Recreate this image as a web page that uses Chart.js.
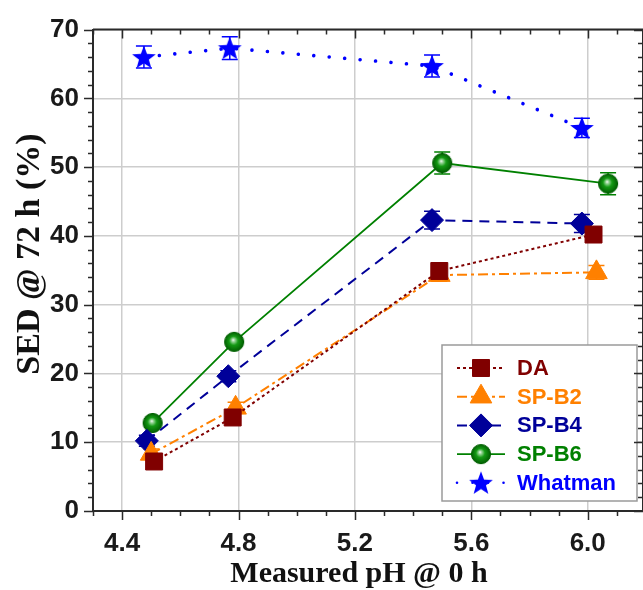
<!DOCTYPE html>
<html><head><meta charset="utf-8">
<script src="https://cdn.jsdelivr.net/npm/chart.js@4.4.1/dist/chart.umd.min.js"></script>
<style>html,body{margin:0;padding:0;background:#fff;}#wrap{width:643px;height:590px;}</style>
</head><body><div id="wrap"><canvas id="c" width="643" height="590"></canvas></div>
<script>
// ---- data ----
const seriesNames = ['DA', 'SP-B2', 'SP-B4', 'SP-B6', 'Whatman'];
const phDA = [4.51, 4.78, 5.49, 6.02];
const sedDA = [7.2, 13.6, 34.9, 40.2];
const errDA = [0.7, 0.8, 1.0, 0.9];
const phB2 = [4.50, 4.79, 5.49, 6.03];
const sedB2 = [8.3, 15.0, 34.3, 34.7];
const errB2 = [0.7, 0.8, 0.9, 1.0];
const phB4 = [4.485, 4.765, 5.465, 5.98];
const sedB4 = [10.2, 19.6, 42.3, 41.8];
const errB4 = [0.8, 0.8, 1.3, 1.3];
const phB6 = [4.505, 4.785, 5.50, 6.07];
const sedB6 = [12.8, 24.6, 50.6, 47.6];
const errB6 = [0.6, 0.7, 1.6, 1.6];
const phW = [4.475, 4.77, 5.465, 5.98];
const sedW = [66.0, 67.3, 64.7, 55.7];
const errW = [1.6, 1.65, 1.6, 1.4];
const xTickLabels = [4.4, 4.8, 5.2, 5.6, 6.0];
const yTickLabels = [0, 10, 20, 30, 40, 50, 60, 70];
const xTitle = 'Measured pH @ 0 h';
const yTitle = 'SED @ 72 h (%)';

// ---- marker images ----
function sphere(){
  const c = document.createElement('canvas'); c.width = 22; c.height = 22;
  const g = c.getContext('2d');
  const gr = g.createRadialGradient(10, 9, 0, 11, 11, 10);
  gr.addColorStop(0, '#ffffff'); gr.addColorStop(0.15, '#9fd89f');
  gr.addColorStop(0.45, '#149a14'); gr.addColorStop(1, '#005a00');
  g.beginPath(); g.arc(11, 11, 9.6, 0, Math.PI * 2); g.fillStyle = gr; g.fill();
  g.lineWidth = 1; g.strokeStyle = '#006000'; g.stroke();
  return c;
}
function starImg(){
  const c = document.createElement('canvas'); c.width = 26; c.height = 26;
  const g = c.getContext('2d');
  g.beginPath();
  for (let i = 0; i < 10; i++) {
    const r = i % 2 === 0 ? 12.5 : 5.2;
    const a = -Math.PI / 2 + i * Math.PI / 5;
    const px = 13 + r * Math.cos(a), py = 14 + r * Math.sin(a);
    if (i === 0) g.moveTo(px, py); else g.lineTo(px, py);
  }
  g.closePath(); g.fillStyle = '#0000ff'; g.fill();
  return c;
}
const sphereC = sphere();
const starC = starImg();

const colors = ['#800000', '#ff8000', '#000099', '#008000', '#0000ff'];
const styles = [
  {pointStyle: 'rect', radius: 12, dash: [3, 3], width: 2, cap: 'butt'},
  {pointStyle: 'triangle', radius: 12.5, dash: [10, 4, 3, 4], width: 2, cap: 'butt'},
  {pointStyle: 'rectRot', radius: 11.5, dash: [10, 7], width: 2, cap: 'butt'},
  {pointStyle: sphereC, radius: 10, dash: [], width: 1.8, cap: 'butt'},
  {pointStyle: starC, radius: 12, dash: [0.01, 15.5], width: 3.6, cap: 'round'}
];
const xs = [phDA, phB2, phB4, phB6, phW];
const ys = [sedDA, sedB2, sedB4, sedB6, sedW];
const errs = [errDA, errB2, errB4, errB6, errW];

const datasets = seriesNames.map((name, k) => ({
  label: name,
  data: xs[k].map((x, i) => ({x: x, y: ys[k][i]})),
  showLine: true, fill: false, tension: 0,
  borderColor: colors[k], backgroundColor: colors[k],
  borderWidth: styles[k].width, borderDash: styles[k].dash, borderCapStyle: styles[k].cap,
  pointStyle: styles[k].pointStyle, pointRadius: styles[k].radius,
  pointBackgroundColor: colors[k], pointBorderColor: colors[k], pointBorderWidth: 1,
  pointHoverRadius: styles[k].radius, clip: false
}));

const axisColor = '#2a2a2a';
const decor = {
  id: 'decor',
  beforeDatasetsDraw(chart) {
    const c = chart.ctx, X = chart.scales.x, Y = chart.scales.y;
    c.save();
    errs.forEach((e, k) => {
      c.strokeStyle = colors[k]; c.lineWidth = 1.5; c.setLineDash([]);
      e.forEach((d, i) => {
        const px = X.getPixelForValue(xs[k][i]);
        const t = Y.getPixelForValue(ys[k][i] + d), b = Y.getPixelForValue(ys[k][i] - d);
        c.beginPath();
        c.moveTo(px, t); c.lineTo(px, b);
        c.moveTo(px - 8, t); c.lineTo(px + 8, t);
        c.moveTo(px - 8, b); c.lineTo(px + 8, b);
        c.stroke();
      });
    });
    c.restore();
  },
  afterDraw(chart) {
    const c = chart.ctx, X = chart.scales.x, Y = chart.scales.y, a = chart.chartArea;
    c.save();
    // legend
    const lx = 442, ly = 345, lw = 195, lh = 156;
    c.fillStyle = '#fff'; c.fillRect(lx, ly, lw, lh);
    c.strokeStyle = '#9a9a9a'; c.lineWidth = 1.5; c.strokeRect(lx, ly, lw, lh);
    seriesNames.forEach((name, k) => {
      const cy = 368 + k * 28.7;
      c.strokeStyle = colors[k]; c.lineWidth = Math.min(styles[k].width, 2.6);
      c.setLineDash(styles[k].dash); c.lineCap = styles[k].cap;
      c.beginPath(); c.moveTo(457, cy); c.lineTo(505, cy); c.stroke();
      c.setLineDash([]); c.lineCap = 'butt';
      c.fillStyle = colors[k]; c.strokeStyle = colors[k]; c.lineWidth = 1;
      Chart.helpers.drawPoint(c, {pointStyle: styles[k].pointStyle, radius: styles[k].radius, rotation: 0, borderWidth: 1}, 481, cy);
      c.fillStyle = colors[k];
      c.font = 'bold 22px "Liberation Sans", Arial, sans-serif';
      c.textAlign = 'left'; c.textBaseline = 'middle';
      c.fillText(name, 517, cy + 1);
    });
    // frame lines
    c.strokeStyle = axisColor; c.lineWidth = 2; c.setLineDash([]);
    c.beginPath();
    c.moveTo(a.left, a.top); c.lineTo(a.right, a.top);
    c.moveTo(a.right, a.top); c.lineTo(a.right, a.bottom);
    c.stroke();
    // ticks
    c.lineWidth = 1.5;
    c.beginPath();
    for (let i = 0; i <= 19; i++) {
      const v = 4.3 + i * 0.1;
      if (v > X.max + 1e-9) break;
      const px = Math.round(X.getPixelForValue(v)) + 0.5;
      const major = Math.abs(((v - 4.4) / 0.4) - Math.round((v - 4.4) / 0.4)) < 1e-6;
      const L = major ? 9 : 5;
      c.moveTo(px, a.bottom); c.lineTo(px, a.bottom + L);
      c.moveTo(px, a.top); c.lineTo(px, a.top + L);
    }
    for (let v = 0; v <= 70; v += 2) {
      const py = Math.round(Y.getPixelForValue(v)) + 0.5;
      const L = v % 10 === 0 ? 9 : 5;
      c.moveTo(a.left, py); c.lineTo(a.left - L, py);
      c.moveTo(a.right, py); c.lineTo(a.right - L, py);
    }
    c.stroke();
    // axis titles
    c.fillStyle = '#111';
    c.font = 'bold 30px "Liberation Serif", "Times New Roman", serif';
    c.textAlign = 'center'; c.textBaseline = 'alphabetic';
    c.fillText(xTitle, 359, 582);
    c.translate(39, 254); c.rotate(-Math.PI / 2);
    c.font = 'bold 34px "Liberation Serif", "Times New Roman", serif';
    c.fillText(yTitle, 0, 0);
    c.restore();
  }
};

const tickFont = {family: '"Liberation Sans", Arial, sans-serif', size: 26, weight: 'bold'};
new Chart(document.getElementById('c').getContext('2d'), {
  type: 'line',
  data: {datasets: datasets},
  options: {
    responsive: false, animation: false,
    layout: {autoPadding: false, padding: {top: 24, right: 0, left: 0, bottom: 0}},
    plugins: {legend: {display: false}, tooltip: {enabled: false}},
    scales: {
      x: {
        type: 'linear', min: 4.3, max: 6.19,
        afterBuildTicks: s => { s.ticks = xTickLabels.map(v => ({value: v})); },
        afterFit: s => { s.height = 79; },
        ticks: {callback: v => Number(v).toFixed(1), font: tickFont, color: '#1a1a1a', padding: 17, maxRotation: 0, autoSkip: false},
        grid: {color: '#cdcdcd', lineWidth: 1.5, drawTicks: false},
        border: {color: axisColor, width: 2}
      },
      y: {
        type: 'linear', min: 0, max: 70,
        afterBuildTicks: s => { s.ticks = yTickLabels.map(v => ({value: v})); },
        afterFit: s => { s.width = 93; },
        ticks: {font: tickFont, color: '#1a1a1a', padding: 14, autoSkip: false},
        grid: {color: '#cdcdcd', lineWidth: 1.5, drawTicks: false},
        border: {color: axisColor, width: 2}
      }
    }
  },
  plugins: [decor]
});
</script></body></html>
